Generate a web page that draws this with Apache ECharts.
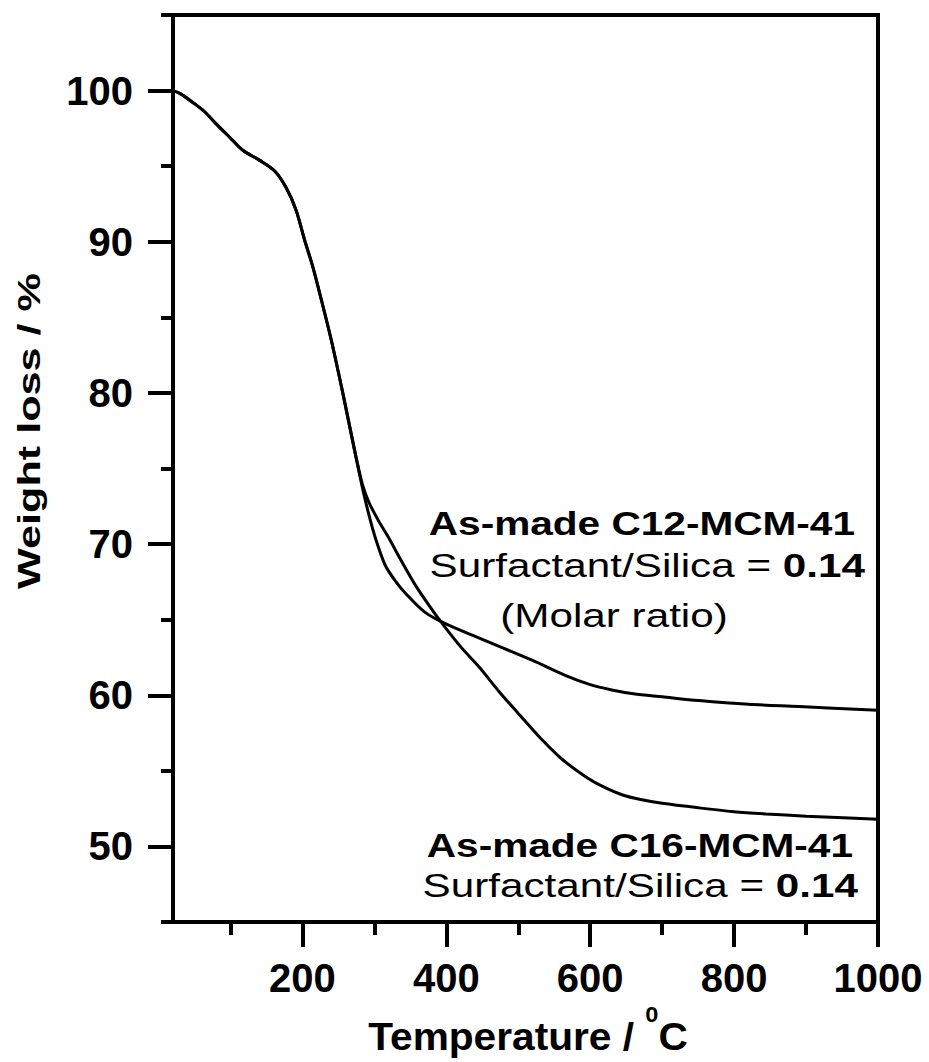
<!DOCTYPE html>
<html>
<head>
<meta charset="utf-8">
<title>TGA of as-made MCM-41</title>
<script src="https://cdn.jsdelivr.net/npm/echarts@6/dist/echarts.min.js"></script>
<style>
  html, body { margin: 0; padding: 0; background: #fff; }
  #chart { width: 929px; height: 1062px; }
</style>
</head>
<body>
<div id="chart"></div>
<script>
// Axis ranges and ticks
const X_MIN = 20, X_MAX = 1000;
const Y_MIN = 45, Y_MAX = 105;
const xMajorTicks = [200, 400, 600, 800, 1000];
const xMinorTicks = [100, 300, 500, 700, 900];
const yMajorTicks = [50, 60, 70, 80, 90, 100];
const yMinorTicks = [45, 55, 65, 75, 85, 95, 105];

// Thermogravimetric curves: temperature (°C) and remaining weight (%)
const c12Temp   = [20, 30, 48, 64, 80, 99, 117, 140, 161, 177, 191, 203, 214, 226, 240, 256, 272, 283, 292, 302, 315, 330, 344, 370, 400, 440, 475, 520, 566, 600, 630, 660, 700, 751, 820, 890, 1000];
const c12Weight = [100, 99.8, 99.2, 98.6, 97.8, 96.9, 96.05, 95.4, 94.7, 93.6, 92.1, 90.1, 88.4, 86.2, 83.5, 80, 76.3, 73.8, 72.0, 70.3, 68.6, 67.5, 66.7, 65.5, 64.7, 63.9, 63.2, 62.3, 61.3, 60.7, 60.35, 60.1, 59.9, 59.65, 59.4, 59.25, 59.0];

const c16Temp   = [20, 30, 48, 64, 80, 99, 117, 140, 161, 177, 191, 203, 214, 226, 240, 256, 272, 283, 292, 305, 320, 335, 358, 381, 395, 420, 445, 474, 500, 530, 560, 594, 620, 645, 670, 700, 751, 800, 844, 900, 1000];
const c16Weight = [100, 99.8, 99.2, 98.6, 97.8, 96.9, 96.05, 95.4, 94.7, 93.6, 92.1, 90.1, 88.4, 86.2, 83.5, 80, 76.3, 74.0, 72.8, 71.6, 70.4, 69.1, 67.2, 65.6, 64.7, 63.2, 61.9, 60.2, 58.8, 57.2, 55.8, 54.6, 53.9, 53.4, 53.1, 52.85, 52.55, 52.3, 52.15, 52.0, 51.8];

const zip = (xs, ys) => xs.map((x, i) => [x, ys[i]]);

const FONT = "'Liberation Sans', Arial, Helvetica, sans-serif";
const BLACK = '#000';

const chart = echarts.init(document.getElementById('chart'), null, { renderer: 'svg' });

const tickLabel = {
  fontFamily: FONT, fontWeight: 'bold', fontSize: 40, color: BLACK,
  formatter: (v) => String(v)
};

// An unlabeled axis that only draws tick marks at the given values
function tickAxis(min, max, position, values, length) {
  return {
    type: 'value', min: min, max: max, position: position, offset: 0,
    axisLine: { show: false },
    axisTick: { show: true, inside: false, length: length, customValues: values,
                lineStyle: { color: BLACK, width: 4 } },
    axisLabel: { show: false },
    splitLine: { show: false }
  };
}

chart.setOption({
  backgroundColor: '#fff',
  animation: false,
  grid: {
    left: 173, right: 51, top: 15, bottom: 140,
    show: true, borderColor: BLACK, borderWidth: 4,
    containLabel: false, outerBoundsMode: 'none'
  },
  xAxis: [
    {
      type: 'value', min: X_MIN, max: X_MAX, position: 'bottom',
      axisLine: { show: true, lineStyle: { color: BLACK, width: 4 } },
      axisTick: { show: false },
      axisLabel: Object.assign({ customValues: xMajorTicks, margin: 36 }, tickLabel),
      splitLine: { show: false }
    },
    tickAxis(X_MIN, X_MAX, 'bottom', xMajorTicks, 25),
    tickAxis(X_MIN, X_MAX, 'bottom', xMinorTicks, 13)
  ],
  yAxis: [
    {
      type: 'value', min: Y_MIN, max: Y_MAX, position: 'left',
      axisLine: { show: true, lineStyle: { color: BLACK, width: 4 } },
      axisTick: { show: false },
      axisLabel: Object.assign({ customValues: yMajorTicks, margin: 40 }, tickLabel),
      splitLine: { show: false }
    },
    tickAxis(Y_MIN, Y_MAX, 'left', yMajorTicks, 25),
    tickAxis(Y_MIN, Y_MAX, 'left', yMinorTicks, 12)
  ],
  series: [
    {
      name: 'As-made C12-MCM-41', type: 'line', xAxisIndex: 0, yAxisIndex: 0,
      data: zip(c12Temp, c12Weight), showSymbol: false, smooth: 0.3,
      lineStyle: { color: BLACK, width: 3 }, z: 3
    },
    {
      name: 'As-made C16-MCM-41', type: 'line', xAxisIndex: 0, yAxisIndex: 0,
      data: zip(c16Temp, c16Weight), showSymbol: false, smooth: 0.3,
      lineStyle: { color: BLACK, width: 3 }, z: 3
    }
  ],
  graphic: [
    // y-axis title, rotated and widened along its length
    {
      type: 'text', x: 29, y: 431, rotation: Math.PI / 2, scaleX: 1.35,
      style: { text: 'Weight loss / %', font: 'bold 32px ' + FONT, fill: BLACK,
               textAlign: 'center', textVerticalAlign: 'middle' }
    },
    // x-axis title with superscript degree mark
    {
      type: 'text', x: 528, y: 1055, scaleX: 1.07,
      style: {
        text: '{a|Temperature / }{s|0}{a|C}',
        textAlign: 'center', textVerticalAlign: 'bottom', fill: BLACK,
        rich: {
          a: { fontFamily: FONT, fontWeight: 'bold', fontSize: 38, verticalAlign: 'bottom', fill: BLACK },
          s: { fontFamily: FONT, fontWeight: 'bold', fontSize: 22, verticalAlign: 'bottom', padding: [0, 0, 30, 0], fill: BLACK }
        }
      }
    },
    // Annotation for the C12 curve
    {
      type: 'text', x: 855, y: 524, scaleX: 1.23,
      style: { text: 'As-made C12-MCM-41', font: 'bold 33px ' + FONT, fill: BLACK,
               textAlign: 'right', textVerticalAlign: 'middle' }
    },
    {
      type: 'text', x: 865, y: 566, scaleX: 1.28,
      style: {
        text: '{n|Surfactant/Silica = }{b|0.14}', textAlign: 'right', textVerticalAlign: 'middle', fill: BLACK,
        rich: {
          n: { fontFamily: FONT, fontWeight: 'normal', fontSize: 33, fill: BLACK },
          b: { fontFamily: FONT, fontWeight: 'bold', fontSize: 33, fill: BLACK }
        }
      }
    },
    {
      type: 'text', x: 614, y: 616, scaleX: 1.28,
      style: { text: '(Molar ratio)', font: 'normal 33px ' + FONT, fill: BLACK,
               textAlign: 'center', textVerticalAlign: 'middle' }
    },
    // Annotation for the C16 curve
    {
      type: 'text', x: 853, y: 846, scaleX: 1.23,
      style: { text: 'As-made C16-MCM-41', font: 'bold 33px ' + FONT, fill: BLACK,
               textAlign: 'right', textVerticalAlign: 'middle' }
    },
    {
      type: 'text', x: 858, y: 886, scaleX: 1.28,
      style: {
        text: '{n|Surfactant/Silica = }{b|0.14}', textAlign: 'right', textVerticalAlign: 'middle', fill: BLACK,
        rich: {
          n: { fontFamily: FONT, fontWeight: 'normal', fontSize: 33, fill: BLACK },
          b: { fontFamily: FONT, fontWeight: 'bold', fontSize: 33, fill: BLACK }
        }
      }
    }
  ]
});
</script>
</body>
</html>
